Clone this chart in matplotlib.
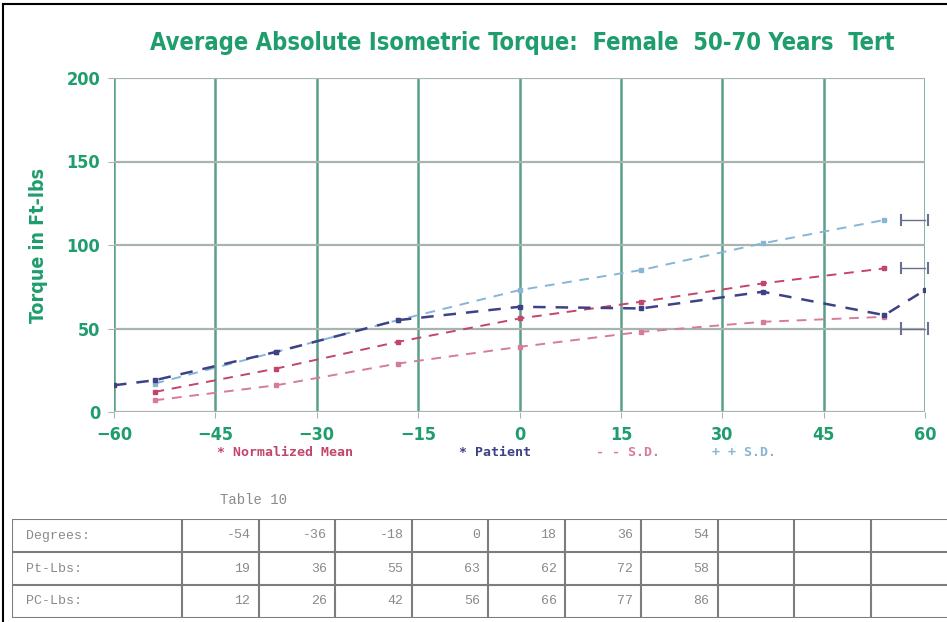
import matplotlib.pyplot as plt
from matplotlib.lines import Line2D

# Isometric torque by joint angle (degrees)
degrees = [-54, -36, -18, 0, 18, 36, 54]
patient = [19, 36, 55, 63, 62, 72, 58]
normal_mean = [12, 26, 42, 56, 66, 77, 86]
sd_low = [7, 16, 29, 39, 48, 54, 57]
sd_high = [17, 36, 55, 73, 85, 101, 115]
# patient trace runs on to both ends of the range
patient_ends_x = [-60, 60]
patient_ends_y = [16, 73]

x_ticks = [-60, -45, -30, -15, 0, 15, 30, 45, 60]
y_ticks = [0, 50, 100, 150, 200]

row_labels = ["Degrees:", "Pt-Lbs:", "PC-Lbs:"]
n_table_cols = 10

green = "#1f9d6c"
teal = "#5a9f8c"
grid_gray = "#aab4ae"
red = "#c2456a"
pink = "#d77c98"
navy = "#3d4287"
light_blue = "#86b6d4"
table_gray = "#8a8a8a"
narrow = "DejaVu Sans"

fig = plt.figure(figsize=(9.47, 6.22), dpi=100)
W, H = 947, 622

ax = fig.add_axes([114 / W, 1 - 412 / H, (925 - 114) / W, (412 - 78) / H])
ax.set_xlim(-60, 60)
ax.set_ylim(0, 200)
ax.set_xticks(x_ticks)
ax.set_yticks(y_ticks)
ax.grid(False)
for xv in x_ticks:
    ax.axvline(xv, color=teal, lw=1.8, zorder=1)
for yv in y_ticks:
    ax.axhline(yv, color=grid_gray, lw=1.6, zorder=1)
for s in ax.spines.values():
    s.set_visible(False)
ax.tick_params(length=4, color=grid_gray, pad=6)
for lab in ax.get_xticklabels() + ax.get_yticklabels():
    lab.set_color(green)
    lab.set_fontsize(13)
    lab.set_fontweight("bold")
    lab.set_family(narrow)
    lab.set_fontstretch("condensed")

dash = (0, (5, 4))
ax.plot(degrees, sd_high, color=light_blue, lw=1.4, ls=dash, marker="s", ms=3, zorder=3)
ax.plot(degrees, sd_low, color=pink, lw=1.4, ls=dash, marker="s", ms=3, zorder=3)
ax.plot(degrees, normal_mean, color=red, lw=1.4, ls=dash, marker="s", ms=3, zorder=4)
ax.plot([patient_ends_x[0]] + degrees + [patient_ends_x[1]],
        [patient_ends_y[0]] + patient + [patient_ends_y[1]],
        color=navy, lw=1.8, ls=dash, marker="s", ms=3, zorder=5)

# small end brackets at the right of the curves
for yv in (sd_high[-1], normal_mean[-1], sd_low[-1] - 7):
    ax.plot([56.5, 56.5], [yv - 3, yv + 3], color="#6b7092", lw=1.5, clip_on=False, zorder=6)
    ax.plot([56.5, 60], [yv, yv], color="#6b7092", lw=1, clip_on=False, zorder=6)
    ax.plot([60.5, 60.5], [yv - 3, yv + 3], color="#6b7092", lw=1.5, clip_on=False, zorder=6)

fig.text(522 / W, 1 - 43 / H,
         "Average Absolute Isometric Torque:  Female  50-70 Years  Tert",
         color=green, fontsize=17, fontweight="bold", family=narrow,
         fontstretch="condensed", ha="center", va="center")
fig.text(38 / W, 1 - 245 / H, "Torque in Ft-lbs", color=green, fontsize=14,
         fontweight="bold", family=narrow, fontstretch="condensed",
         rotation=90, ha="center", va="center")

# legend line under the axis
legend_items = [("* Normalized Mean", red, 217), ("* Patient", navy, 459),
                ("- - S.D.", pink, 596), ("+ + S.D.", light_blue, 712)]
for text, col, xp in legend_items:
    fig.text(xp / W, 1 - 452 / H, text, color=col, fontsize=9.5,
             fontweight="bold", family="DejaVu Sans Mono", ha="left", va="center")

# data table
fig.text(253 / W, 1 - 500 / H, "Table 10", color=table_gray, fontsize=10,
         family="Liberation Mono", ha="center", va="center")
tax = fig.add_axes([12 / W, 1 - 618 / H, (W - 12) / W, (618 - 519) / H])
label_w = 170
col_w = (W - 12 - label_w) / n_table_cols
tax.set_xlim(0, W - 12)
tax.set_ylim(0, 3)
tax.axis("off")
for r in range(4):
    tax.axhline(r, color="#7d7d7d", lw=1.5)
tax.axvline(0, color="#7d7d7d", lw=1.5)
for c in range(n_table_cols):
    tax.axvline(label_w + c * col_w, color="#7d7d7d", lw=1.5)
rows = [degrees, patient, normal_mean]
for r, (name, vals) in enumerate(zip(row_labels, rows)):
    yc = 2.5 - r
    tax.text(14, yc, name, color=table_gray, fontsize=9.5, family="Liberation Mono",
             ha="left", va="center")
    for c, v in enumerate(vals):
        tax.text(label_w + (c + 1) * col_w - 8, yc, str(v), color=table_gray,
                 fontsize=9.5, family="Liberation Mono", ha="right", va="center")

# page frame along top and left
fig.add_artist(Line2D([3 / W, 3 / W], [0, 1 - 4 / H], color="black", lw=1.5))
fig.add_artist(Line2D([3 / W, 1], [1 - 4 / H, 1 - 4 / H], color="black", lw=1.5))

fig.savefig("out.png", dpi=100)
